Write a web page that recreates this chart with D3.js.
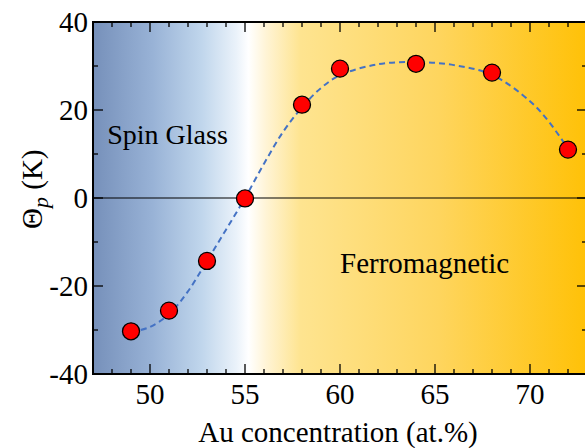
<!DOCTYPE html>
<html>
<head>
<meta charset="utf-8">
<script src="https://cdn.jsdelivr.net/npm/d3@7"></script>
<style>
  body { margin: 0; background: #fff; }
</style>
</head>
<body>
<div id="chart"></div>
<script>
// Data
var auConc = [49, 51, 53, 55, 58, 60, 64, 68, 72];
var thetaP = [-30.3, -25.6, -14.3, -0.1, 21.2, 29.4, 30.5, 28.5, 11.0];

// dashed guide curve
var fitX = [49, 50, 51, 52, 53, 54, 55, 56, 57, 58, 59, 60, 62, 64, 66, 68, 70, 71, 72];
var fitY = [-30.5, -29.3, -26.4, -21.2, -14.3, -7.2, 0, 7.8, 15.0, 20.6, 25.0, 27.9, 30.4, 30.9, 30.2, 28.0, 22.0, 17.3, 11.2];

var xTicks = [50, 55, 60, 65, 70];
var yTicks = [-40, -20, 0, 20, 40];

var serif = "'Liberation Serif', 'DejaVu Serif', 'Times New Roman', serif";

// SVG
var svgWidth = 585, svgHeight = 448;
var margin = { top: 22, right: -2, bottom: 74, left: 93 };
var width = svgWidth - margin.left - margin.right;
var height = svgHeight - margin.top - margin.bottom;

var svg = d3.select("#chart").append("svg")
    .attr("width", svgWidth)
    .attr("height", svgHeight)
    .attr("font-family", serif);

var x = d3.scaleLinear().domain([47, 73]).range([0, width]);
var y = d3.scaleLinear().domain([-40, 40]).range([height, 0]);

// Fondo degradado
var defs = svg.append("defs");
var grad = defs.append("linearGradient")
    .attr("id", "bg")
    .attr("x1", "0%").attr("x2", "100%")
    .attr("y1", "0%").attr("y2", "0%");
var stops = [
    [0, "#7690ba"],
    [0.12, "#98b2d6"],
    [0.22, "#c0d6ec"],
    [0.29, "#eaf2fa"],
    [0.315, "#ffffff"],
    [0.35, "#fff4d6"],
    [0.42, "#fee490"],
    [0.7, "#fed55e"],
    [1, "#ffc107"]
];
stops.forEach(function (s) {
    grad.append("stop").attr("offset", s[0]).attr("stop-color", s[1]);
});

var g = svg.append("g")
    .attr("transform", "translate(" + margin.left + "," + margin.top + ")");

g.append("rect")
    .attr("width", width)
    .attr("height", height)
    .attr("fill", "url(#bg)");

// linea de cero
g.append("line")
    .attr("x1", 0).attr("x2", width)
    .attr("y1", y(0)).attr("y2", y(0))
    .attr("stroke", "#000")
    .attr("stroke-width", 1.2);

// Texto de regiones
g.append("text")
    .attr("x", x(47.75))
    .attr("y", y(12.3))
    .attr("font-size", 28)
    .text("Spin Glass");

g.append("text")
    .attr("x", x(60))
    .attr("y", y(-17))
    .attr("font-size", 29)
    .text("Ferromagnetic");

// curva
var line = d3.line()
    .x(function (d) { return x(d[0]); })
    .y(function (d) { return y(d[1]); })
    .curve(d3.curveCatmullRom);

g.append("path")
    .datum(d3.zip(fitX, fitY))
    .attr("d", line)
    .attr("fill", "none")
    .attr("stroke", "#4472c4")
    .attr("stroke-width", 2)
    .attr("stroke-dasharray", "6,4");

// puntos
g.selectAll("circle.pt")
    .data(d3.zip(auConc, thetaP))
    .enter()
    .append("circle")
    .attr("class", "pt")
    .attr("cx", function (d) { return x(d[0]); })
    .attr("cy", function (d) { return y(d[1]); })
    .attr("r", 8.5)
    .attr("fill", "#ff0000")
    .attr("stroke", "#000")
    .attr("stroke-width", 1.3);

// Ejes
function minorTicks(sel, scale, vals, len, orient) {
    vals.forEach(function (v) {
        var p = scale(v);
        if (orient === "bottom") {
            sel.append("line").attr("x1", p).attr("x2", p).attr("y1", height).attr("y2", height - len);
        } else if (orient === "top") {
            sel.append("line").attr("x1", p).attr("x2", p).attr("y1", 0).attr("y2", len);
        } else if (orient === "left") {
            sel.append("line").attr("x1", 0).attr("x2", len).attr("y1", p).attr("y2", p);
        } else {
            sel.append("line").attr("x1", width).attr("x2", width - len).attr("y1", p).attr("y2", p);
        }
    });
}

var ticksG = g.append("g").attr("stroke", "#000").attr("stroke-width", 1.3);
var xMinor = d3.range(48, 73, 1).filter(function (v) { return v % 5 !== 0; });
var yMinor = [-30, -10, 10, 30];
["bottom", "top"].forEach(function (o) {
    minorTicks(ticksG, x, xMinor, 5, o);
    minorTicks(ticksG, x, xTicks, 10, o);
});
["left", "right"].forEach(function (o) {
    minorTicks(ticksG, y, yMinor, 5, o);
    minorTicks(ticksG, y, yTicks, 10, o);
});

g.append("rect")
    .attr("width", width)
    .attr("height", height)
    .attr("fill", "none")
    .attr("stroke", "#000")
    .attr("stroke-width", 2);

// etiquetas
g.selectAll("text.xt")
    .data(xTicks)
    .enter().append("text")
    .attr("class", "xt")
    .attr("x", function (d) { return x(d); })
    .attr("y", height + 30)
    .attr("text-anchor", "middle")
    .attr("font-size", 29)
    .text(function (d) { return d; });

g.selectAll("text.yt")
    .data(yTicks)
    .enter().append("text")
    .attr("class", "yt")
    .attr("x", -5)
    .attr("y", function (d) { return y(d); })
    .attr("dy", "0.35em")
    .attr("text-anchor", "end")
    .attr("font-size", 29)
    .text(function (d) { return d; });

svg.append("text")
    .attr("x", margin.left + x(60) - 2)
    .attr("y", 442)
    .attr("text-anchor", "middle")
    .attr("font-size", 29)
    .text("Au concentration (at.%)");

var yl = svg.append("text")
    .attr("transform", "translate(42," + (margin.top + y(2)) + ") rotate(-90)")
    .attr("text-anchor", "middle")
    .attr("font-size", 29);
yl.append("tspan").text("Θ");
yl.append("tspan").attr("font-style", "italic").attr("font-size", 22).attr("dy", 6).text("p");
yl.append("tspan").attr("dy", -6).text(" (K)");
</script>
</body>
</html>
